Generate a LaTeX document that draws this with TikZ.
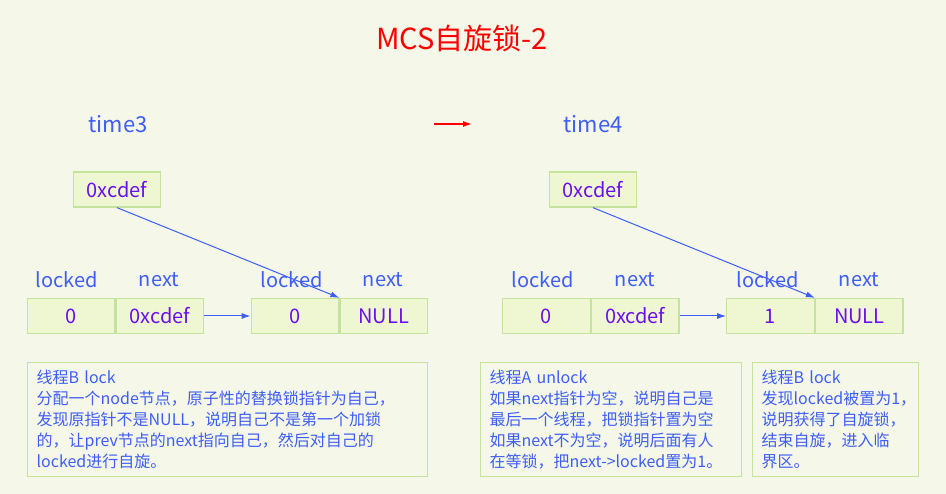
\documentclass[tikz,border=0pt]{standalone}
\usepackage{fontspec}
\setmainfont{Noto Sans CJK SC}
\usetikzlibrary{positioning,arrows.meta}
\definecolor{bgcol}{HTML}{F5F7E8}
\definecolor{cellfill}{HTML}{EFF7D2}
\definecolor{cellline}{HTML}{C6E39C}
\definecolor{lblblue}{HTML}{3F5EF8}
\definecolor{valviolet}{HTML}{6A10F0}

\begin{document}
\begin{tikzpicture}[
    x=1pt, y=-1pt,
    cell/.style={draw=cellline, fill=cellfill, line width=1.3pt,
      minimum width=87.5pt, minimum height=35pt, inner sep=0pt,
      text=valviolet, font=\fontsize{20}{22}\selectfont},
    fieldname/.style={text=lblblue, font=\fontsize{20}{22}\selectfont},
    timename/.style={text=lblblue, font=\fontsize{22}{24}\selectfont},
    note/.style={draw=cellline, line width=1.3pt, anchor=north west,
      minimum height=114pt, inner xsep=9pt, inner ysep=3pt, align=left,
      text=lblblue, font=\fontsize{16}{21}\selectfont},
    ptr/.style={-{Latex[length=9pt,width=6pt]}, draw=lblblue, line width=1pt},
  ]
  \fill[bgcol] (0,0) rectangle (946,494);
  \node[text=red, font=\fontsize{29}{32}\selectfont] (title) at (462,38) {MCS自旋锁-2};

  % time3
  \node[timename] (t3) at (118,124) {time3};
  \node[cell] (tail3) at (117,189.5) {0xcdef};
  \node[cell] (a0) at (71,316) {0};
  \node[cell, right=0pt of a0] (a1) {0xcdef};
  \node[cell] (b0) at (295,316) {0};
  \node[cell, right=0pt of b0] (b1) {NULL};
  \node[fieldname] (la0) at (67,280) {locked};
  \node[fieldname] (la1) at (159,280) {next};
  \node[fieldname] (lb0) at (292,280) {locked};
  \node[fieldname] (lb1) at (383,280) {next};
  \draw[ptr] (a1.east) -- (b0.west);
  \draw[ptr] (tail3.south) -- (b1.north west);

  % arrow between the two moments
  \coordinate (s) at (434,124);
  \coordinate (e) at (472,124);
  \draw[-{Latex[length=9pt,width=6pt]}, red, line width=1.3pt] (s) -- (e);

  % time4
  \node[timename] (t4) at (593,124) {time4};
  \node[cell] (tail4) at (593,189.5) {0xcdef};
  \node[cell] (c0) at (546.5,316) {0};
  \node[cell, right=0pt of c0] (c1) {0xcdef};
  \node[cell] (d0) at (770.5,316) {1};
  \node[cell, right=0pt of d0] (d1) {NULL};
  \node[fieldname] (lc0) at (543,280) {locked};
  \node[fieldname] (lc1) at (635,280) {next};
  \node[fieldname] (ld0) at (768,280) {locked};
  \node[fieldname] (ld1) at (859,280) {next};
  \draw[ptr] (c1.east) -- (d0.west);
  \draw[ptr] (tail4.south) -- (d1.north west);

  % notes
  \node[note, text width=382pt] (n1) at (27,362) {线程B lock\\
    分配一个node节点，原子性的替换锁指针为自己，\\
    发现原指针不是NULL，说明自己不是第一个加锁\\
    的，让prev节点的next指向自己，然后对自己的\\
    locked进行自旋。};
  \node[note, text width=243pt] (n2) at (480,362) {线程A unlock\\
    如果next指针为空，说明自己是\\
    最后一个线程，把锁指针置为空\\
    如果next不为空，说明后面有人\\
    在等锁，把next->locked置为1。};
  \node[note, text width=148pt] (n3) at (752,362) {线程B lock\\
    发现locked被置为1，\\
    说明获得了自旋锁，\\
    结束自旋，进入临\\
    界区。};
\end{tikzpicture}
\end{document}
